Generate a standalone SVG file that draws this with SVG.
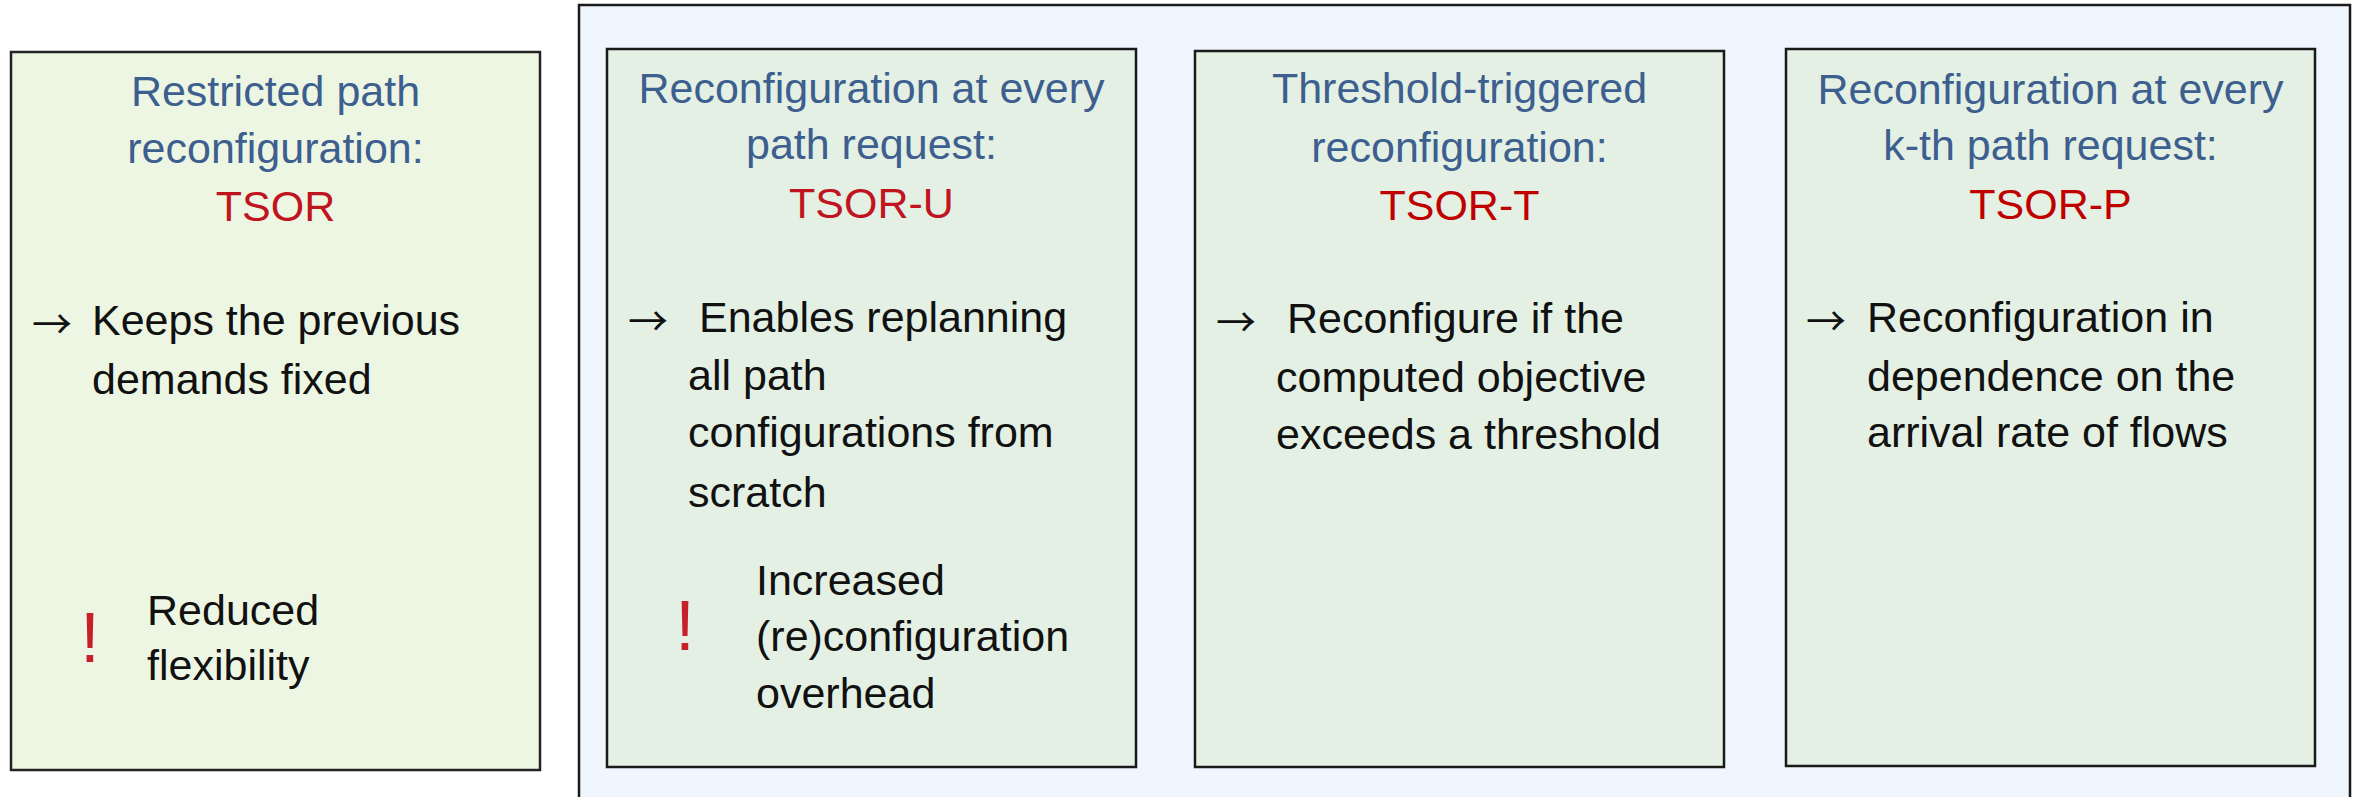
<svg xmlns="http://www.w3.org/2000/svg" width="2364" height="797" viewBox="0 0 2364 797">
  <style>
    .t { font-family: "Liberation Sans", Arial, sans-serif; font-size: 43px; }
    .title { fill: #3D5F8F; text-anchor: middle; }
    .name { fill: #C0141E; text-anchor: middle; }
    .body { fill: #111111; }
    .arrow { font-family: "Noto Sans CJK JP", "DejaVu Sans", sans-serif; font-size: 40px; fill: #111111; }
    .warn { font-family: "Liberation Sans", Arial, sans-serif; font-size: 70px; fill: #C8202A; text-anchor: middle; }
    .card { fill: #E3F0E3; stroke: #1A1A1A; stroke-width: 2.5; }
  </style>

  <!-- left card: restricted reconfiguration -->
  <g id="tsor">
    <rect x="11" y="52" width="529" height="718" fill="#EDF6E3" stroke="#222222" stroke-width="2.5"/>
    <text class="t title" x="275.5" y="106">Restricted path</text>
    <text class="t title" x="275.5" y="163">reconfiguration:</text>
    <text class="t name" x="275.5" y="221">TSOR</text>
    <text class="arrow" x="32" y="339">→</text>
    <text class="t body" x="92" y="335">Keeps the previous</text>
    <text class="t body" x="92" y="394">demands fixed</text>
    <text class="warn" x="90" y="662">!</text>
    <text class="t body" x="147" y="625">Reduced</text>
    <text class="t body" x="147" y="680">flexibility</text>
  </g>

  <!-- frame around the unrestricted variants -->
  <g id="variants">
    <rect x="579" y="5" width="1771" height="800" fill="#EFF6FD" stroke="#1A1A1A" stroke-width="2.5"/>
  </g>

  <g id="tsor-u">
    <rect class="card" x="607" y="49" width="529" height="718"/>
    <text class="t title" x="871.5" y="103">Reconfiguration at every</text>
    <text class="t title" x="871.5" y="159">path request:</text>
    <text class="t name" x="871.5" y="218">TSOR-U</text>
    <text class="arrow" x="628" y="336">→</text>
    <text class="t body" x="699" y="332">Enables replanning</text>
    <text class="t body" x="688" y="390">all path</text>
    <text class="t body" x="688" y="447">configurations from</text>
    <text class="t body" x="688" y="507">scratch</text>
    <text class="warn" x="685" y="650">!</text>
    <text class="t body" x="756" y="595">Increased</text>
    <text class="t body" x="756" y="651">(re)configuration</text>
    <text class="t body" x="756" y="708">overhead</text>
  </g>

  <g id="tsor-t">
    <rect class="card" x="1195" y="51" width="529" height="716"/>
    <text class="t title" x="1459.5" y="103">Threshold-triggered</text>
    <text class="t title" x="1459.5" y="162">reconfiguration:</text>
    <text class="t name" x="1459.5" y="220" style="fill:#C00000">TSOR-T</text>
    <text class="arrow" x="1216" y="337">→</text>
    <text class="t body" x="1287" y="333">Reconfigure if the</text>
    <text class="t body" x="1276" y="392">computed objective</text>
    <text class="t body" x="1276" y="449">exceeds a threshold</text>
  </g>

  <g id="tsor-p">
    <rect class="card" x="1786" y="49" width="529" height="717"/>
    <text class="t title" x="2050.5" y="104">Reconfiguration at every</text>
    <text class="t title" x="2050.5" y="160">k-th path request:</text>
    <text class="t name" x="2050.5" y="219" style="fill:#C00000">TSOR-P</text>
    <text class="arrow" x="1806" y="336">→</text>
    <text class="t body" x="1867" y="332">Reconfiguration in</text>
    <text class="t body" x="1867" y="391">dependence on the</text>
    <text class="t body" x="1867" y="447">arrival rate of flows</text>
  </g>

  <!-- no connectors in this figure -->
  <g id="connectors"/>
</svg>
